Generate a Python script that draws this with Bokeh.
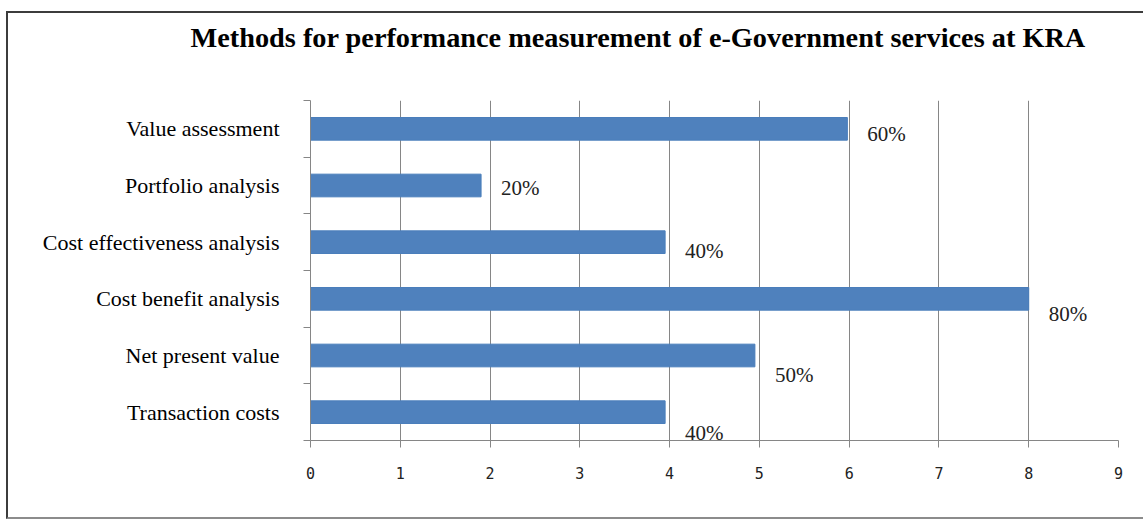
from bokeh.plotting import figure
from bokeh.models import ColumnDataSource, FixedTicker, Range1d, Title
from bokeh.embed import file_html
from bokeh.resources import INLINE
from bokeh.core.properties import value

# ---- data (bottom to top) ----
categories = ["Transaction costs", "Net present value", "Cost benefit analysis",
              "Cost effectiveness analysis", "Portfolio analysis", "Value assessment"]
counts = [3.95, 4.95, 8.0, 3.95, 1.9, 5.98]
pct_labels = ["40%", "50%", "80%", "40%", "20%", "60%"]
label_dy = [21, 19, 15, 9, 2, 5]
x_ticks = [0, 1, 2, 3, 4, 5, 6, 7, 8, 9]

title_text = "Methods for performance measurement of e-Government services at KRA"

ypos = [i + 0.5 for i in range(len(categories))]
src = ColumnDataSource(dict(y=ypos, val=counts, lbl=pct_labels, dy=label_dy))

W, H = 1137, 508
p = figure(width=W, height=H, output_backend="svg", toolbar_location=None,
           x_range=Range1d(0, 9), y_range=Range1d(0, len(categories)),
           min_border_left=302, min_border_right=27, min_border_top=87,
           min_border_bottom=81)
p.styles = {"margin-left": "6px", "margin-top": "11px",
            "border-left": "2px solid #3c3c3c", "border-top": "2px solid #3c3c3c",
            "border-bottom": "2px solid #8c8c8c"}
p.outline_line_color = None
p.background_fill_color = "white"
p.border_fill_color = "white"

# spacer (closest to the frame) then the real title above it
p.add_layout(Title(text=" ", text_font_size="10px", standoff=31), "above")
p.add_layout(Title(text=title_text, text_font="Liberation Serif", text_font_style="bold",
                   text_font_size="28.3px", text_color="black", align="left",
                   offset=-120, standoff=8), "above")

p.hbar(y="y", left=0, right="val", height=0.4, source=src,
       fill_color="#4F81BD", line_color="#4A7EBB", line_width=1)

p.text(x="val", y="y", text="lbl", source=src, x_offset=10, y_offset="dy",
       text_baseline="middle", text_align="left",
       text_font=value("Liberation Serif"), text_font_size="21px", text_color="#222222",
       background_fill_color="white", padding=(10, 14))

# x axis
p.xaxis.ticker = FixedTicker(ticks=x_ticks)
p.xaxis.axis_line_color = "#868686"
p.xaxis.major_tick_line_color = "#868686"
p.xaxis.major_tick_out = 7
p.xaxis.major_tick_in = 0
p.xaxis.minor_tick_line_color = None
p.xaxis.major_label_text_font = "DejaVu Sans Mono"
p.xaxis.major_label_text_font_size = "15px"
p.xaxis.major_label_text_color = "#222222"
p.xaxis.major_label_standoff = 19

# y axis: labels at centres, ticks at boundaries
p.yaxis.ticker = FixedTicker(ticks=ypos, minor_ticks=list(range(len(categories) + 1)))
p.yaxis.major_label_overrides = {y: c for y, c in zip(ypos, categories)}
p.yaxis.axis_line_color = "#868686"
p.yaxis.major_tick_line_color = None
p.yaxis.minor_tick_line_color = "#868686"
p.yaxis.minor_tick_out = 7
p.yaxis.minor_tick_in = 0
p.yaxis.major_label_text_font = "Liberation Serif"
p.yaxis.major_label_text_font_size = "22px"
p.yaxis.major_label_text_color = "black"
p.yaxis.major_label_standoff = 24

p.xgrid.ticker = FixedTicker(ticks=x_ticks)
p.xgrid.grid_line_color = "#868686"
p.ygrid.grid_line_color = None

open("out.html", "w").write(file_html(p, INLINE))
